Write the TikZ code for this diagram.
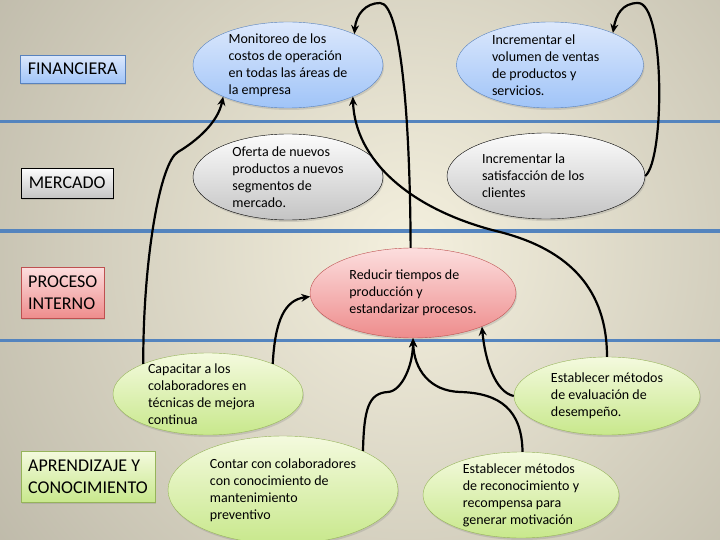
\documentclass[tikz,border=0pt]{standalone}
\usepackage{fontspec}
\setmainfont{Carlito}
\definecolor{bgin}{RGB}{244,240,222}
\definecolor{bgout}{RGB}{150,145,130}
\definecolor{band}{RGB}{84,132,190}
\definecolor{blueA}{RGB}{220,232,252}
\definecolor{blueB}{RGB}{160,196,248}
\definecolor{blueE}{RGB}{88,130,190}
\definecolor{greyA}{RGB}{252,252,252}
\definecolor{greyB}{RGB}{196,196,196}
\definecolor{redA}{RGB}{252,222,222}
\definecolor{redB}{RGB}{238,140,140}
\definecolor{redE}{RGB}{190,80,80}
\definecolor{greenA}{RGB}{244,250,222}
\definecolor{greenB}{RGB}{200,232,140}
\definecolor{greenE}{RGB}{150,180,90}
\usetikzlibrary{shapes,arrows.meta,shadows}

\begin{document}
\begin{tikzpicture}[x=1pt,y=-1pt,
    goal/.style={ellipse,draw,thin,align=flush left,inner xsep=0pt,inner ysep=-3pt,
        font=\fontsize{14}{17}\selectfont,
        drop shadow={opacity=.25,shadow xshift=1pt,shadow yshift=-2pt}},
    tag/.style={rectangle,draw,thin,align=flush left,inner xsep=7pt,inner ysep=2pt,anchor=north west,
        font=\fontsize{18}{21.6}\selectfont,
        drop shadow={opacity=.25,shadow xshift=1pt,shadow yshift=-2pt}},
    fin/.style={top color=blueA,bottom color=blueB,draw=blueE},
    mer/.style={top color=greyA,bottom color=greyB,draw=black},
    pro/.style={top color=redA,bottom color=redB,draw=redE},
    apr/.style={top color=greenA,bottom color=greenB,draw=greenE},
    link/.style={draw=black,line width=2.2pt,-{Stealth[length=9pt,width=8pt,inset=3pt]}}]
    \useasboundingbox (0,0) rectangle (720,540);
    \clip (0,0) rectangle (720,540);
    \shade[inner color=bgin,outer color=bgout] (410,250) circle (900pt);
    \foreach \y in {121.5,231,340}
        \draw[band,line width=3pt] (0,\y) -- (720,\y);

    % perspectivas
    \node[tag,fin,minimum width=105pt,minimum height=28pt] (tfin) at (20,55) {FINANCIERA};
    \node[tag,mer,minimum width=92pt,minimum height=30pt] (tmer) at (21,168) {MERCADO};
    \node[tag,pro,minimum height=51pt] (tpro) at (21,267) {PROCESO\\INTERNO};
    \node[tag,apr,minimum height=51pt] (tapr) at (21,451) {APRENDIZAJE Y\\CONOCIMIENTO};

    % objetivos
    \node[goal,fin,minimum width=190pt,minimum height=86pt] (mon) at (288,65) {Monitoreo de los\\costos de operación\\en todas las áreas de\\la empresa};
    \node[goal,fin,text width=116pt,minimum width=187pt,minimum height=86pt] (vol) at (550,65) {Incrementar el\\volumen de ventas\\de productos y\\servicios.};
    \node[goal,mer,minimum width=190pt,minimum height=86pt] (ofe) at (288,177) {Oferta de nuevos\\productos a nuevos\\segmentos de\\mercado.};
    \node[goal,mer,text width=128pt,minimum width=198pt,minimum height=86pt] (sat) at (546,176) {Incrementar la\\satisfacción de los\\clientes};
    \node[goal,pro,minimum width=206pt,minimum height=90pt] (red) at (413,293) {Reducir tiempos de\\producción y\\estandarizar procesos.};
    \node[goal,apr,text width=120pt,minimum width=190pt,minimum height=82pt] (cap) at (208,394) {Capacitar a los\\colaboradores en\\técnicas de mejora\\continua};
    \node[goal,apr,minimum width=230pt,minimum height=108pt] (cont) at (283,490) {Contar con colaboradores\\con conocimiento de\\mantenimiento\\preventivo};
    \node[goal,apr,minimum width=186pt,minimum height=78pt] (eva) at (607,396) {Establecer métodos\\de evaluación de\\desempeño.};
    \node[goal,apr,minimum width=196pt,minimum height=86pt] (rec) at (521,495) {Establecer métodos\\de reconocimiento y\\recompensa para\\generar motivación};

    % relaciones causa-efecto
    \draw[link] (cap.155) .. controls (143,260) and (160,162) .. (178,152) .. controls (198,140) and (218,122) .. (mon.-154);
    \draw[link] (cap.25) .. controls (275,320) and (285,300) .. (red.182);
    \draw[link] (red.93) .. controls (410,110) and (400,3) .. (380,3) .. controls (366,3) and (356,14) .. (mon.25);
    \draw[link] (eva.90) .. controls (607,290) and (570,250) .. (500,232) .. controls (410,210) and (355,160) .. (mon.-26);
    \draw[link] (eva.180) .. controls (495,392) and (485,360) .. (red.-26);
    \draw[link] (cont.26) .. controls (364,410) and (368,393) .. (388,392) .. controls (402,391) and (413,365) .. (red.-90);
    \draw[link] (rec.88) .. controls (522,410) and (500,393) .. (460,392) .. controls (430,391) and (414,370) .. (red.-90);
    \draw[link] (sat.0) .. controls (665,160) and (665,3) .. (638,3) .. controls (622,3) and (616,15) .. (vol.27);
\end{tikzpicture}
\end{document}
